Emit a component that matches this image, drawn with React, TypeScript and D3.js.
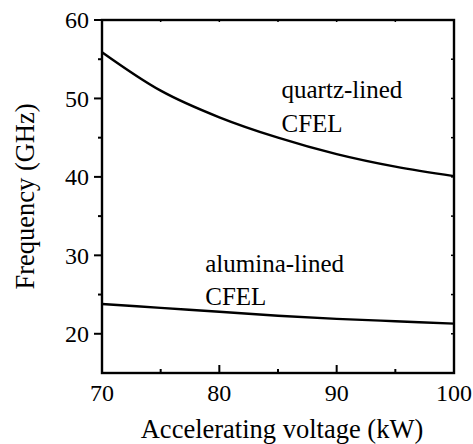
import React from "react";
import * as d3 from "d3";

const voltage = [70, 75, 80, 85, 90, 95, 100];
const quartzFreq = [55.9, 51.0, 47.6, 45.0, 42.9, 41.3, 40.1];
const aluminaFreq = [23.8, 23.3, 22.8, 22.3, 21.9, 21.6, 21.3];
const xTicks = [70, 80, 90, 100];
const xMinor = [75, 85, 95];
const yTicks = [20, 30, 40, 50, 60];
const yMinor = [25, 35, 45, 55];
const labels = [
  { lines: ["quartz-lined", "CFEL"], x: 85.3, y: 50.0 },
  { lines: ["alumina-lined", "CFEL"], x: 78.8, y: 27.9 },
];

const W = 473, H = 444;
const L = 102, R = 454, T = 20, B = 373;
const FF = "'Liberation Serif', 'Times New Roman', serif";
const css = `svg.chart text, svg.chart tspan { font-family: 'Liberation Serif', 'Times New Roman', serif !important; }`;

export default function App() {
  const x = d3.scaleLinear().domain([70, 100]).range([L, R]);
  const y = d3.scaleLinear().domain([15, 60]).range([B, T]);
  const line = d3
    .line<number>()
    .x((_, i) => x(voltage[i]))
    .y((d) => y(d))
    .curve(d3.curveCatmullRom);
  const sw = 2.4;
  return (
    <div style={{ position: "absolute", left: 0, top: 0, fontFamily: FF }}>
      <style>{css}</style>
      <svg className="chart" width={W} height={H} style={{ display: "block", fontFamily: FF }}>
        <rect width={W} height={H} fill="#fff" />
        <path d={line(quartzFreq) || ""} fill="none" stroke="#000" strokeWidth={sw} />
        <path d={line(aluminaFreq) || ""} fill="none" stroke="#000" strokeWidth={sw} />
        <rect x={L} y={T} width={R - L} height={B - T} fill="none" stroke="#000" strokeWidth={sw} />
        {xTicks.map((t) => (
          <g key={"xt" + t}>
            <line x1={x(t)} x2={x(t)} y1={B} y2={B - 8} stroke="#000" strokeWidth={2} />
            <text x={x(t)} y={401} fontSize={24} textAnchor="middle">{t}</text>
          </g>
        ))}
        {xMinor.map((t) => (
          <line key={"xm" + t} x1={x(t)} x2={x(t)} y1={B} y2={B - 4} stroke="#000" strokeWidth={2} />
        ))}
        {[...xTicks, ...xMinor].map((t) => (
          <line key={"tt" + t} x1={x(t)} x2={x(t)} y1={T} y2={T + 2} stroke="#000" strokeWidth={1.5} />
        ))}
        {yTicks.map((t) => (
          <g key={"yt" + t}>
            <line x1={L} x2={L - 8} y1={y(t)} y2={y(t)} stroke="#000" strokeWidth={2} />
            <text x={89} y={y(t)} dy="0.35em" fontSize={24} textAnchor="end">{t}</text>
          </g>
        ))}
        {yMinor.map((t) => (
          <line key={"ym" + t} x1={L} x2={L - 4} y1={y(t)} y2={y(t)} stroke="#000" strokeWidth={2} />
        ))}
        {[...yTicks, ...yMinor].map((t) => (
          <line key={"rt" + t} x1={R} x2={R - 3} y1={y(t)} y2={y(t)} stroke="#000" strokeWidth={1.5} />
        ))}
        {labels.map((lb, i) => (
          <text key={"lb" + i} x={x(lb.x)} y={y(lb.y)} fontSize={25}>
            {lb.lines.map((s, j) => (
              <tspan key={j} x={x(lb.x)} dy={j === 0 ? 0 : 33.5}>{s}</tspan>
            ))}
          </text>
        ))}
        <text x={(L + R) / 2 + 4} y={438} fontSize={26.5} textAnchor="middle">Accelerating voltage (kW)</text>
        <text transform={`translate(34, ${(T + B) / 2}) rotate(-90)`} fontSize={26.5} textAnchor="middle">Frequency (GHz)</text>
      </svg>
    </div>
  );
}
